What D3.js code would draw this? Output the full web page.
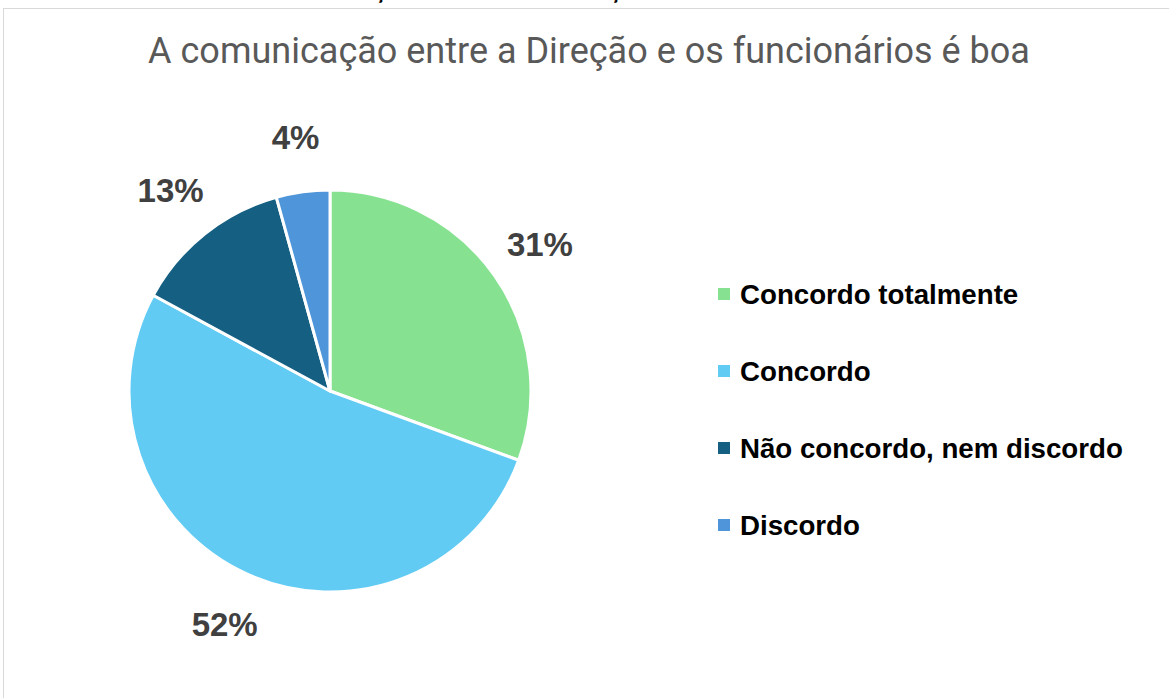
<!DOCTYPE html>
<html>
<head>
<meta charset="utf-8">
<script src="https://cdn.jsdelivr.net/npm/d3@7"></script>
<style>
  body { margin: 0; background: #fff; }
  svg { display: block; }
</style>
</head>
<body>
<div id="chart"></div>
<script>
// dados do gráfico
const categorias = ["Concordo totalmente", "Concordo", "Não concordo, nem discordo", "Discordo"];
const valores = [30.6, 52.3, 12.8, 4.3];
const cores = ["#86e291", "#61cbf4", "#156082", "#4e95d9"];
const titulo = "A comunicação entre a Direção e os funcionários é boa";

const W = 1169, H = 698;
const cx = 330, cy = 391, raio = 201;

const svg = d3.select("#chart").append("svg")
    .attr("width", W)
    .attr("height", H);

// moldura do gráfico
svg.append("rect")
    .attr("x", 3.5).attr("y", 8.5)
    .attr("width", W + 10).attr("height", H + 10)
    .attr("fill", "#fff")
    .attr("stroke", "#d9d9d9")
    .attr("stroke-width", 1);

// restos do texto cortado por cima (como na imagem original)
svg.selectAll("text.corte")
    .data([380, 615])
    .enter().append("text")
    .attr("class", "corte")
    .attr("x", d => d).attr("y", -1)
    .attr("text-anchor", "middle")
    .attr("font-family", "Roboto")
    .attr("font-weight", "bold")
    .attr("font-size", 18)
    .attr("fill", "#000")
    .text("ç");

// título
const t = svg.append("text")
    .attr("x", 589).attr("y", 63)
    .attr("text-anchor", "middle")
    .attr("font-family", "Roboto")
    .attr("font-size", 30)
    .attr("fill", "#595959")
    .text(titulo);
let tw = t.node().getComputedTextLength();
t.attr("font-size", 30 * 882 / tw);

const pie = d3.pie().sort(null).value(d => d)
    .startAngle(0).endAngle(2 * Math.PI);
const arcos = pie(valores);

const arc = d3.arc().innerRadius(0).outerRadius(raio);
const arcLabel = d3.arc().innerRadius(256).outerRadius(256);

const g = svg.append("g")
    .attr("transform", "translate(" + cx + "," + cy + ")");

g.selectAll("path")
    .data(arcos)
    .enter().append("path")
    .attr("d", arc)
    .attr("fill", (d, i) => cores[i])
    .attr("stroke", "#fff")
    .attr("stroke-width", 3)
    .attr("stroke-linejoin", "round");

g.selectAll("text.rotulo")
    .data(arcos)
    .enter().append("text")
    .attr("class", "rotulo")
    .attr("x", d => arcLabel.centroid(d)[0])
    .attr("y", d => arcLabel.centroid(d)[1])
    .attr("text-anchor", "middle")
    .attr("dominant-baseline", "central")
    .attr("font-family", "Liberation Sans")
    .attr("font-weight", "bold")
    .attr("font-size", 33)
    .attr("fill", "#404040")
    .text(d => Math.round(d.data) + "%");

// legenda
const yLeg = d3.scalePoint()
    .domain(categorias)
    .range([294, 525]);

const leg = svg.append("g");
leg.selectAll("rect")
    .data(categorias)
    .enter().append("rect")
    .attr("x", 718)
    .attr("y", d => yLeg(d) - 6)
    .attr("width", 12).attr("height", 12)
    .attr("fill", (d, i) => cores[i]);

const legTxt = leg.selectAll("text")
    .data(categorias)
    .enter().append("text")
    .attr("x", 740)
    .attr("y", d => yLeg(d))
    .attr("dominant-baseline", "central")
    .attr("font-family", "Liberation Sans")
    .attr("font-weight", "bold")
    .attr("font-size", 24)
    .attr("fill", "#000")
    .text(d => d);
let lw = legTxt.nodes()[2].getComputedTextLength();
legTxt.attr("font-size", 24 * 383 / lw);
</script>
</body>
</html>
